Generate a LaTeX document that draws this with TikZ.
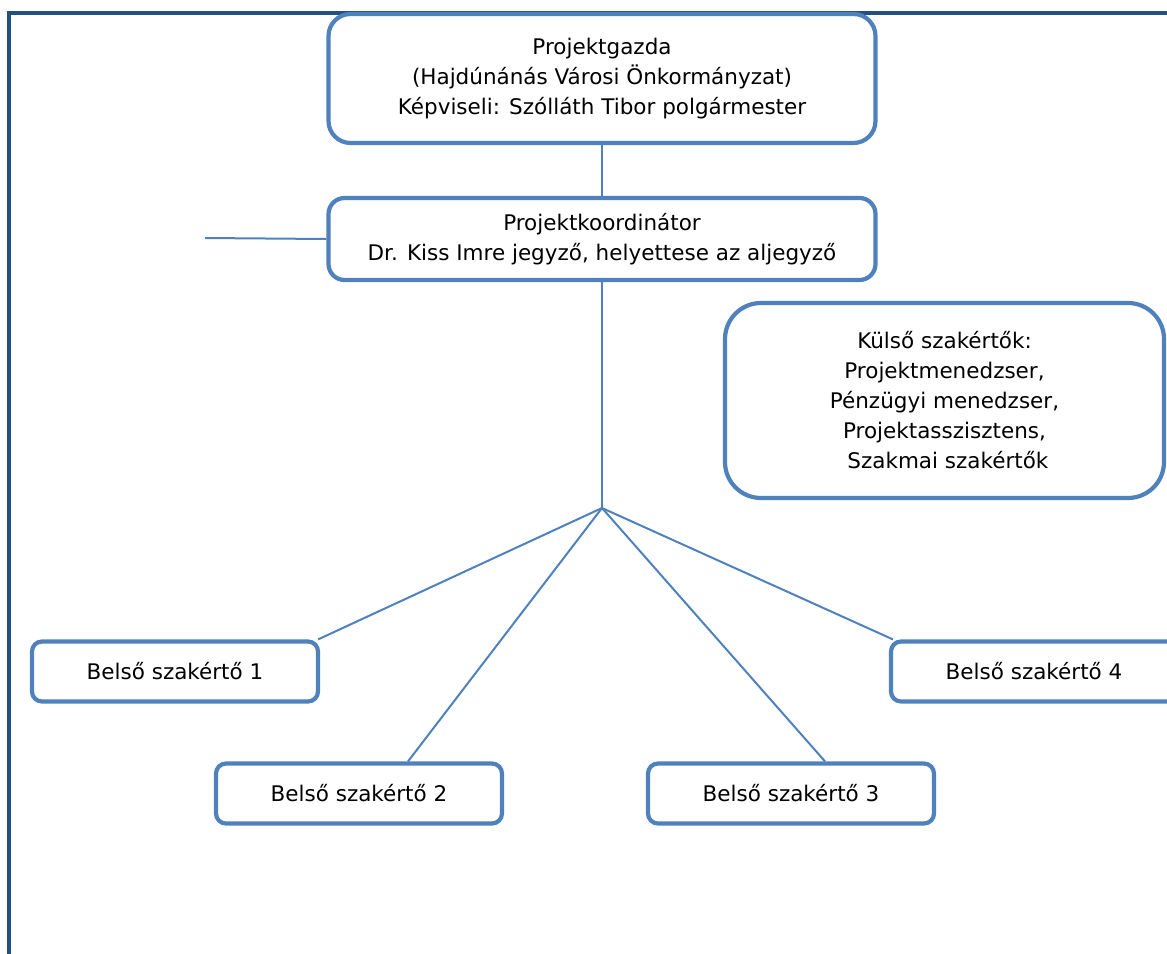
\documentclass[tikz,border=0pt]{standalone}
\usepackage{fontspec}
\setmainfont{DejaVu Sans}
\usetikzlibrary{calc}
\definecolor{boxblue}{HTML}{4F81BD}
\definecolor{framblue}{HTML}{24507F}
\begin{document}
\begin{tikzpicture}[x=1pt,y=-1pt,
  font=\fontsize{21.5pt}{30pt}\selectfont,
  orgbox/.style={draw=boxblue,line width=4.2pt,align=center,inner sep=0pt,fill=white},
  conn/.style={draw=boxblue,line width=2pt},
  frameline/.style={draw=framblue,line width=3.8pt}]
\useasboundingbox (0,0) rectangle (1167,953);
\draw[frameline] (9,960) -- (9,13.3) -- (1175,13.3);
\node[orgbox,rounded corners=22pt,minimum width=547pt,minimum height=129pt] (gazda) at (602,78.5)
  {Projektgazda\\(Hajdúnánás Városi Önkormányzat)\\Képviseli: Szólláth Tibor polgármester};
\node[orgbox,rounded corners=16pt,minimum width=547pt,minimum height=82pt] (koord) at (602,239)
  {Projektkoordinátor\\Dr. Kiss Imre jegyző, helyettese az aljegyző};
\node[orgbox,rounded corners=36pt,minimum width=439pt,minimum height=195pt] (kulso) at (944.5,400.5)
  {Külső szakértők:\\Projektmenedzser,\\Pénzügyi menedzser,\\Projektasszisztens,\\\ Szakmai szakértők};
\node[orgbox,rounded corners=10pt,minimum width=286pt,minimum height=60pt] (b1) at (175,671.5) {Belső szakértő 1};
\node[orgbox,rounded corners=10pt,minimum width=286pt,minimum height=60pt] (b2) at (359,793.5) {Belső szakértő 2};
\node[orgbox,rounded corners=10pt,minimum width=286pt,minimum height=60pt] (b3) at (791,793.5) {Belső szakértő 3};
\node[orgbox,rounded corners=10pt,minimum width=286pt,minimum height=60pt] (b4) at (1034,671.5) {Belső szakértő 4};
\coordinate (hub) at (602,508);
\coordinate (leftend) at (205,238);
\draw[conn] (gazda.south) -- (koord.north);
\draw[conn] (koord.south) -- (hub);
\draw[conn] (hub) -- ([xshift=-2pt]b1.north east);
\draw[conn] (hub) -- ([xshift=49pt]b2.north);
\draw[conn] (hub) -- ([xshift=34pt]b3.north);
\draw[conn] (hub) -- ([xshift=4pt]b4.north west);
\draw[conn] (koord.west) -- (leftend);
\end{tikzpicture}
\end{document}
